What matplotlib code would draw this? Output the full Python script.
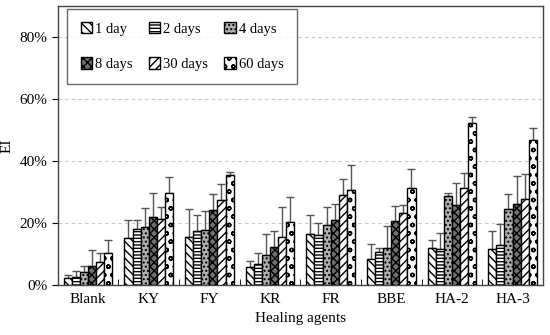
import numpy as np
import matplotlib.pyplot as plt
from matplotlib.ticker import PercentFormatter, FixedLocator

plt.rcParams['font.family'] = ['Liberation Serif', 'DejaVu Serif']
plt.rcParams['hatch.linewidth'] = 1.0

# data (EI in %)
agents = ["Blank", "KY", "FY", "KR", "FR", "BBE", "HA-2", "HA-3"]
days = ["1 day", "2 days", "4 days", "8 days", "30 days", "60 days"]

ei_1d = [2.3, 15.1, 15.5, 5.8, 16.6, 8.4, 11.8, 11.6]
ei_2d = [2.6, 18.1, 17.5, 6.8, 16.1, 10.7, 11.6, 12.9]
ei_4d = [4.2, 18.6, 17.7, 9.7, 19.4, 12.0, 28.6, 24.5]
ei_8d = [6.1, 21.8, 24.1, 12.4, 21.0, 20.7, 25.8, 26.0]
ei_30d = [7.4, 21.2, 27.6, 15.5, 29.1, 23.3, 31.2, 27.7]
ei_60d = [10.3, 29.8, 35.4, 20.3, 30.6, 31.3, 52.2, 46.7]

# top of error bars (%)
top_1d = [3.1, 21.0, 24.4, 7.7, 22.5, 13.3, 14.7, 17.6]
top_2d = [4.6, 21.0, 22.5, 10.5, 20.1, 11.8, 16.7, 19.8]
top_4d = [6.0, 25.0, 23.8, 16.5, 25.3, 19.0, 29.6, 29.5]
top_8d = [11.3, 29.6, 29.3, 17.4, 26.0, 25.5, 32.9, 35.3]
top_30d = [10.4, 25.3, 32.7, 25.3, 34.2, 25.7, 36.1, 35.8]
top_60d = [14.4, 34.7, 36.5, 28.3, 38.6, 37.4, 54.3, 50.6]

series = [ei_1d, ei_2d, ei_4d, ei_8d, ei_30d, ei_60d]
tops = [top_1d, top_2d, top_4d, top_8d, top_30d, top_60d]
hatches = ["\\\\\\\\", "-----", "....", "xxxx", "////", "oo"]
faces = ["white", "white", "#b0b0b0", "#707070", "white", "white"]

fig = plt.figure(figsize=(5.5, 3.35), dpi=100)
ax = fig.add_axes([0.105, 0.149, 0.882, 0.833])

x = np.arange(len(agents))
w = 0.8 / 6
bars = []
for i in range(6):
    pos = x - 0.4 + w * (i + 0.5)
    vals = np.array(series[i])
    err = np.array(tops[i]) - vals
    b = ax.bar(pos, vals, w, color=faces[i], edgecolor="black", hatch=hatches[i],
               linewidth=1.0, label=days[i], zorder=3)
    bars.append(b)
    ax.errorbar(pos, vals, yerr=[np.zeros_like(err), err], fmt="none",
                ecolor="#555555", elinewidth=1.0, capsize=3, capthick=1.0, zorder=2)

ax.set_xlim(-0.5, len(agents) - 0.5)
ax.set_ylim(0, 90)
ax.set_yticks([0, 20, 40, 60, 80])
ax.yaxis.set_major_formatter(PercentFormatter(decimals=0))
ax.set_xticks(x)
ax.set_xticklabels(agents, fontsize=11)
ax.tick_params(axis="x", length=0, pad=6)
ax.xaxis.set_minor_locator(FixedLocator(np.arange(0.5, len(agents) - 1, 1)))
ax.tick_params(axis="x", which="minor", direction="in", length=4)
ax.tick_params(axis="y", labelsize=11, direction="out", length=4)
ax.grid(axis="y", linestyle=(0, (3, 3)), color="#c8c8c8", linewidth=0.8, zorder=0)

for s in ax.spines.values():
    s.set_color("#444444")
    s.set_linewidth(1.0)

ax.set_xlabel("Healing agents", fontsize=11)
ax.set_ylabel("EI", fontsize=11)

# legend filled row by row
order = [0, 3, 1, 4, 2, 5]
leg = ax.legend([bars[k] for k in order], [days[k] for k in order],
                ncol=3, loc="upper left", bbox_to_anchor=(0.02, 0.99),
                fontsize=10.5, frameon=True, fancybox=False, edgecolor="#444444",
                handlelength=0.8, handleheight=0.8, handletextpad=0.2,
                columnspacing=1.1, labelspacing=1.5, borderpad=0.9,
                borderaxespad=0)
leg.get_frame().set_linewidth(1.0)

fig.savefig("out.png", dpi=100)
